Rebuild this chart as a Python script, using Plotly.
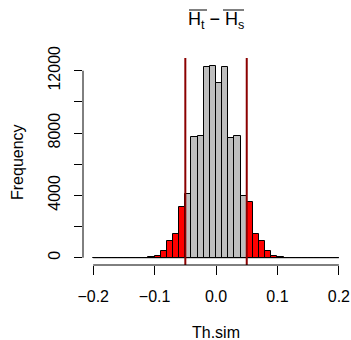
import plotly.graph_objects as go

# ---- data ----
bin_width = 0.01
bin_left_edges = [round(-0.20 + 0.01 * i, 2) for i in range(40)]
counts = [0, 0, 0, 0, 0, 0,
          2, 5, 12, 40, 120, 460, 1050, 1510, 3280, 4090,
          7750, 7780, 12210, 12320, 11190, 12240, 7700, 7780,
          3940, 3560, 1520, 1100, 420, 110, 30, 10, 4, 1,
          0, 0, 0, 0, 0, 0]
critical_values = [-0.05, 0.05]
x_tick_vals = [-0.2, -0.1, 0.0, 0.1, 0.2]
x_tick_text = ["\u22120.2", "\u22120.1", "0.0", "0.1", "0.2"]
y_tick_vals = [0, 4000, 8000, 12000]
y_tick_text = ["0", "4000", "8000", "12000"]
y_minor_step = 2000
x_label = "Th.sim"
y_label = "Frequency"

FONT = "Liberation Sans, Arial, sans-serif"

centers = [e + bin_width / 2 for e in bin_left_edges]
colors = ["#FF0000" if (c < critical_values[0] or c > critical_values[1]) else "#BEBEBE"
          for c in centers]

fig = go.Figure()
fig.add_trace(go.Bar(
    x=centers, y=counts, width=bin_width,
    marker=dict(color=colors, line=dict(color="black", width=1)),
    showlegend=False, hoverinfo="x+y",
))

shapes = []
# baseline of histogram (zero-count bins)
shapes.append(dict(type="line", xref="x", yref="y",
                   x0=bin_left_edges[0], x1=bin_left_edges[-1] + bin_width,
                   y0=0, y1=0, line=dict(color="black", width=1)))
# critical value lines
for cv in critical_values:
    shapes.append(dict(type="line", xref="x", yref="paper", x0=cv, x1=cv,
                       y0=0, y1=1, line=dict(color="#8B0000", width=2)))
# axis lines (R style, only spanning tick range)
shapes.append(dict(type="line", xref="x", yref="paper",
                   x0=x_tick_vals[0], x1=x_tick_vals[-1], y0=0, y1=0,
                   line=dict(color="black", width=1)))
shapes.append(dict(type="line", xref="paper", yref="y",
                   x0=0, x1=0, y0=y_tick_vals[0], y1=y_tick_vals[-1],
                   line=dict(color="black", width=1)))

W, H = 351, 340
ml, mr, mt, mb = 83, 2, 58, 75
pw, ph = W - ml - mr, H - mt - mb


def px_x(p):
    return (p - ml) / pw


def px_y(p):
    return (H - mb - p) / ph


# overlines of the title
for a, b in [(189, 207), (223, 244)]:
    shapes.append(dict(type="line", xref="paper", yref="paper",
                       x0=px_x(a), x1=px_x(b), y0=px_y(10), y1=px_y(10),
                       line=dict(color="black", width=1)))

annotations = [
    dict(text="H<sub>t</sub> \u2212 H<sub>s</sub>", xref="paper", yref="paper",
         x=0.5, y=px_y(20), xanchor="center", yanchor="middle", showarrow=False,
         font=dict(family=FONT, size=18, color="black")),
    dict(text=x_label, xref="paper", yref="paper", x=0.5, y=px_y(332),
         xanchor="center", yanchor="middle", showarrow=False,
         font=dict(family=FONT, size=16, color="black")),
    dict(text=y_label, xref="paper", yref="paper", x=px_x(17), y=px_y(162),
         xanchor="center", yanchor="middle", showarrow=False, textangle=-90,
         font=dict(family=FONT, size=16, color="black")),
]

fig.update_layout(
    width=W, height=H,
    margin=dict(l=ml, r=mr, t=mt, b=mb, pad=0),
    paper_bgcolor="white", plot_bgcolor="white",
    bargap=0,
    shapes=shapes, annotations=annotations,
    font=dict(family=FONT, size=16, color="black"),
    xaxis=dict(range=[-0.2166, 0.2165], showgrid=False, zeroline=False,
               showline=False, automargin=False, tickmode="array",
               tickvals=x_tick_vals, ticktext=x_tick_text, ticks="outside",
               ticklen=9, tickcolor="black", tickwidth=1, ticklabelstandoff=8,
               tickfont=dict(family=FONT, size=16, color="black")),
    yaxis=dict(range=[-468, 12815], showgrid=False, zeroline=False,
               showline=False, automargin=False, tickmode="array",
               tickvals=y_tick_vals, ticktext=y_tick_text, ticks="outside",
               ticklen=8, tickcolor="black", tickwidth=1, tickangle=-90,
               ticklabelstandoff=8,
               minor=dict(tick0=0, dtick=y_minor_step, ticks="outside",
                          ticklen=8, tickcolor="black", tickwidth=1,
                          showgrid=False),
               tickfont=dict(family=FONT, size=16, color="black")),
)

fig.write_html("out.html",
               config={"displayModeBar": False},
               post_script="document.body.style.margin='0';document.body.style.padding='0';")
